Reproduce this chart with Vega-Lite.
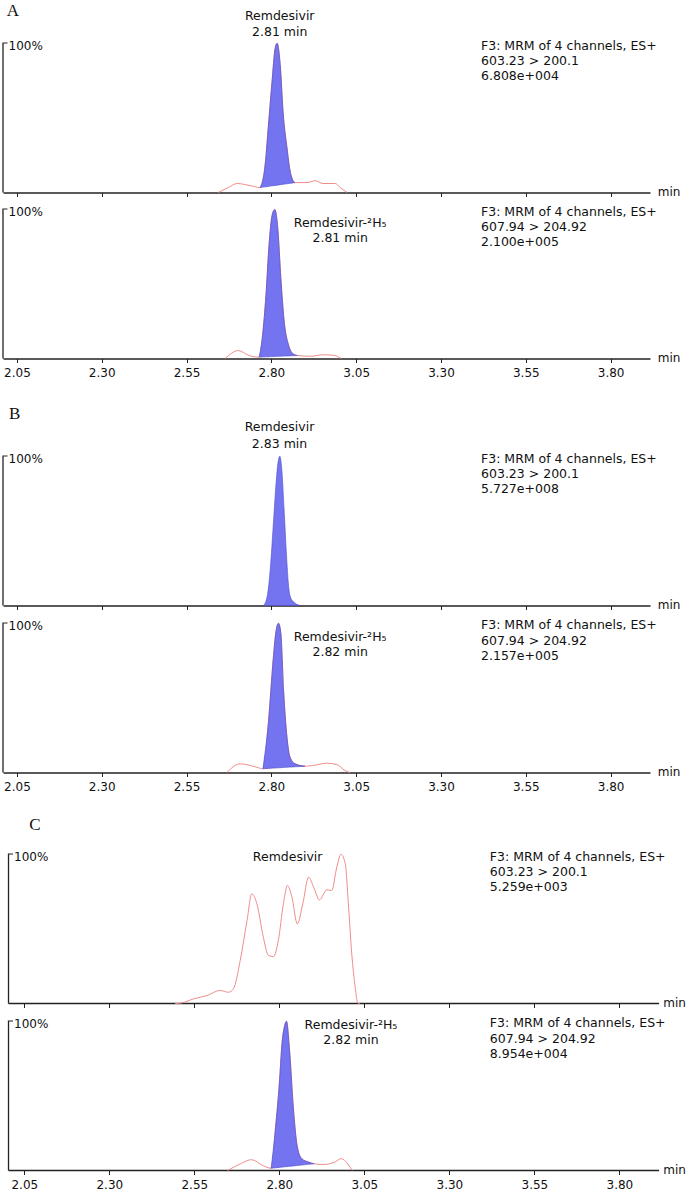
{
  "$schema": "https://vega.github.io/schema/vega-lite/v6.json",
  "padding": {"left": 2, "top": 1.5, "right": 0, "bottom": 0},
  "config": {
    "view": {"stroke": null},
    "axis": {"grid": false, "domainColor": "#222", "domainWidth": 1.3, "tickColor": "#222", "tickWidth": 1, "labelFont": "DejaVu Sans", "labelFontSize": 12, "labelColor": "#111", "titleFont": "DejaVu Sans", "titleFontSize": 12, "titleFontWeight": "normal", "titleColor": "#111"},
    "text": {"font": "DejaVu Sans", "fontSize": 12.5, "color": "#111", "baseline": "middle"}
  },
  "datasets": {
    "trace": [
      {"p":"A1","t":2.643,"v":0},{"p":"A1","t":2.673,"v":3.3},{"p":"A1","t":2.699,"v":6.0},{"p":"A1","t":2.737,"v":4.6},{"p":"A1","t":2.767,"v":3.3,"b":3.3},{"p":"A1","t":2.782,"v":19.2,"b":3.78},{"p":"A1","t":2.790,"v":41,"b":4.04},{"p":"A1","t":2.802,"v":74,"b":4.42},{"p":"A1","t":2.811,"v":96,"b":4.71},{"p":"A1","t":2.817,"v":99.5,"b":4.9},{"p":"A1","t":2.826,"v":85.4,"b":5.19},{"p":"A1","t":2.835,"v":52.3,"b":5.48},{"p":"A1","t":2.846,"v":29.8,"b":5.83},{"p":"A1","t":2.855,"v":14.6,"b":6.12},{"p":"A1","t":2.864,"v":7.9,"b":6.41},{"p":"A1","t":2.870,"v":6.6,"b":6.6},{"p":"A1","t":2.905,"v":6.6},{"p":"A1","t":2.929,"v":7.9},{"p":"A1","t":2.952,"v":6.0},{"p":"A1","t":2.988,"v":6.0},{"p":"A1","t":3.003,"v":3.3},{"p":"A1","t":3.023,"v":0},
      {"p":"A2","t":2.664,"v":0},{"p":"A2","t":2.703,"v":5.3},{"p":"A2","t":2.734,"v":2.0},{"p":"A2","t":2.764,"v":0.9,"b":0.9},{"p":"A2","t":2.774,"v":15.3,"b":1.0},{"p":"A2","t":2.784,"v":42,"b":1.09},{"p":"A2","t":2.793,"v":75.3,"b":1.18},{"p":"A2","t":2.802,"v":95.3,"b":1.27},{"p":"A2","t":2.810,"v":99.3,"b":1.35},{"p":"A2","t":2.819,"v":86.7,"b":1.44},{"p":"A2","t":2.828,"v":53.3,"b":1.52},{"p":"A2","t":2.838,"v":24.2,"b":1.62},{"p":"A2","t":2.851,"v":8.7,"b":1.75},{"p":"A2","t":2.864,"v":3.1,"b":1.87},{"p":"A2","t":2.877,"v":2.0,"b":2.0},{"p":"A2","t":2.915,"v":1.5},{"p":"A2","t":2.954,"v":2.5},{"p":"A2","t":2.986,"v":2.0},{"p":"A2","t":3.006,"v":0},
      {"p":"B1","t":2.777,"v":0,"b":0},{"p":"B1","t":2.788,"v":6.5,"b":0},{"p":"B1","t":2.797,"v":25,"b":0},{"p":"B1","t":2.806,"v":55,"b":0},{"p":"B1","t":2.814,"v":82,"b":0},{"p":"B1","t":2.820,"v":96,"b":0},{"p":"B1","t":2.825,"v":99.5,"b":0},{"p":"B1","t":2.831,"v":90,"b":0},{"p":"B1","t":2.838,"v":62,"b":0},{"p":"B1","t":2.845,"v":32,"b":0},{"p":"B1","t":2.850,"v":15,"b":0},{"p":"B1","t":2.855,"v":6.5,"b":0},{"p":"B1","t":2.865,"v":2.5,"b":0},{"p":"B1","t":2.885,"v":0,"b":0},
      {"p":"B2","t":2.669,"v":0},{"p":"B2","t":2.708,"v":5.8},{"p":"B2","t":2.757,"v":3.5},{"p":"B2","t":2.775,"v":2.5,"b":2.5},{"p":"B2","t":2.791,"v":32.7,"b":2.72},{"p":"B2","t":2.806,"v":76.9,"b":2.92},{"p":"B2","t":2.814,"v":94.7,"b":3.03},{"p":"B2","t":2.821,"v":99.5,"b":3.13},{"p":"B2","t":2.828,"v":92.7,"b":3.23},{"p":"B2","t":2.836,"v":54.7,"b":3.34},{"p":"B2","t":2.846,"v":23.5,"b":3.47},{"p":"B2","t":2.855,"v":10.2,"b":3.6},{"p":"B2","t":2.870,"v":5.8,"b":3.8},{"p":"B2","t":2.899,"v":4.2,"b":4.2},{"p":"B2","t":2.924,"v":4.7},{"p":"B2","t":2.963,"v":6.2},{"p":"B2","t":2.993,"v":5.3},{"p":"B2","t":3.017,"v":1.3},{"p":"B2","t":3.032,"v":0},
      {"p":"C1","t":2.494,"v":0},{"p":"C1","t":2.509,"v":0.2},{"p":"C1","t":2.548,"v":3.1},{"p":"C1","t":2.587,"v":5.3},{"p":"C1","t":2.626,"v":8.7},{"p":"C1","t":2.650,"v":7.5},{"p":"C1","t":2.665,"v":9.8},{"p":"C1","t":2.685,"v":28.7},{"p":"C1","t":2.705,"v":55.3},{"p":"C1","t":2.719,"v":73.1},{"p":"C1","t":2.734,"v":66.5},{"p":"C1","t":2.753,"v":44.2},{"p":"C1","t":2.768,"v":32},{"p":"C1","t":2.783,"v":31.3},{"p":"C1","t":2.797,"v":42},{"p":"C1","t":2.812,"v":66.5},{"p":"C1","t":2.824,"v":78.7},{"p":"C1","t":2.837,"v":70.9},{"p":"C1","t":2.853,"v":53.1},{"p":"C1","t":2.869,"v":66.5},{"p":"C1","t":2.886,"v":84.2},{"p":"C1","t":2.901,"v":77.5},{"p":"C1","t":2.918,"v":69.1},{"p":"C1","t":2.940,"v":75.8},{"p":"C1","t":2.954,"v":75.3},{"p":"C1","t":2.969,"v":90.9},{"p":"C1","t":2.981,"v":99.5},{"p":"C1","t":2.994,"v":93.1},{"p":"C1","t":3.003,"v":66.5},{"p":"C1","t":3.013,"v":33.1},{"p":"C1","t":3.023,"v":10.9},{"p":"C1","t":3.031,"v":0.2},{"p":"C1","t":3.036,"v":0},
      {"p":"C2","t":2.648,"v":0},{"p":"C2","t":2.686,"v":4.5},{"p":"C2","t":2.718,"v":7.2},{"p":"C2","t":2.751,"v":3.4},{"p":"C2","t":2.776,"v":1.5,"b":1.5},{"p":"C2","t":2.789,"v":29,"b":1.81},{"p":"C2","t":2.800,"v":58,"b":2.07},{"p":"C2","t":2.808,"v":85,"b":2.26},{"p":"C2","t":2.815,"v":96,"b":2.43},{"p":"C2","t":2.821,"v":99.5,"b":2.57},{"p":"C2","t":2.830,"v":80.5,"b":2.79},{"p":"C2","t":2.841,"v":42.5,"b":3.05},{"p":"C2","t":2.853,"v":15.6,"b":3.33},{"p":"C2","t":2.866,"v":7.9,"b":3.64},{"p":"C2","t":2.886,"v":5.6,"b":4.12},{"p":"C2","t":2.902,"v":4.5,"b":4.5},{"p":"C2","t":2.931,"v":4.0},{"p":"C2","t":2.963,"v":5.6},{"p":"C2","t":2.982,"v":7.9},{"p":"C2","t":3.001,"v":4.5},{"p":"C2","t":3.014,"v":0}
    ],
    "labels": [
      {"p":"A1","k":"L","t":2.0202,"v":121.3,"s":"A"},
      {"p":"A1","k":"c","t":2.8246,"v":118,"s":"Remdesivir"},
      {"p":"A1","k":"c","t":2.8246,"v":107,"s":"2.81 min"},
      {"p":"A1","k":"l","t":3.418,"v":98,"s":"F3: MRM of 4 channels, ES+"},
      {"p":"A1","k":"l","t":3.418,"v":87.7,"s":"603.23 > 200.1"},
      {"p":"A1","k":"l","t":3.418,"v":77.5,"s":"6.808e+004"},
      {"p":"A2","k":"c","t":3.0028,"v":90.5,"s":"Remdesivir-²H₅"},
      {"p":"A2","k":"c","t":3.0028,"v":80.3,"s":"2.81 min"},
      {"p":"A2","k":"l","t":3.418,"v":98,"s":"F3: MRM of 4 channels, ES+"},
      {"p":"A2","k":"l","t":3.418,"v":87.7,"s":"607.94 > 204.92"},
      {"p":"A2","k":"l","t":3.418,"v":77.5,"s":"2.100e+005"},
      {"p":"B1","k":"L","t":2.0267,"v":128,"s":"B"},
      {"p":"B1","k":"c","t":2.824,"v":118.7,"s":"Remdesivir"},
      {"p":"B1","k":"c","t":2.824,"v":108,"s":"2.83 min"},
      {"p":"B1","k":"l","t":3.418,"v":98,"s":"F3: MRM of 4 channels, ES+"},
      {"p":"B1","k":"l","t":3.418,"v":87.7,"s":"603.23 > 200.1"},
      {"p":"B1","k":"l","t":3.418,"v":77.5,"s":"5.727e+008"},
      {"p":"B2","k":"c","t":3.0028,"v":90.5,"s":"Remdesivir-²H₅"},
      {"p":"B2","k":"c","t":3.0028,"v":80.3,"s":"2.82 min"},
      {"p":"B2","k":"l","t":3.418,"v":98,"s":"F3: MRM of 4 channels, ES+"},
      {"p":"B2","k":"l","t":3.418,"v":87.7,"s":"607.94 > 204.92"},
      {"p":"B2","k":"l","t":3.418,"v":77.5,"s":"2.157e+005"},
      {"p":"C1","k":"L","t":2.0647,"v":118.7,"s":"C"},
      {"p":"C1","k":"c","t":2.8245,"v":98,"s":"Remdesivir"},
      {"p":"C1","k":"l","t":3.419,"v":98,"s":"F3: MRM of 4 channels, ES+"},
      {"p":"C1","k":"l","t":3.419,"v":87.7,"s":"603.23 > 200.1"},
      {"p":"C1","k":"l","t":3.419,"v":77.5,"s":"5.259e+003"},
      {"p":"C2","k":"c","t":3.0106,"v":97.3,"s":"Remdesivir-²H₅"},
      {"p":"C2","k":"c","t":3.0106,"v":87.3,"s":"2.82 min"},
      {"p":"C2","k":"l","t":3.419,"v":98,"s":"F3: MRM of 4 channels, ES+"},
      {"p":"C2","k":"l","t":3.419,"v":87.7,"s":"607.94 > 204.92"},
      {"p":"C2","k":"l","t":3.419,"v":77.5,"s":"8.954e+004"}
    ],
    "axisAB": [{"t":2.009,"y0":0,"y1":100}],
    "axisC": [{"t":2.0036,"t2":3.9167,"y0":0,"y1":100}]
  },
  "spacing": 0,
  "bounds": "flush",
  "vconcat": [
    {
      "width": 647, "height": 150,
      "data": {"name": "trace"},
      "transform": [{"filter": "datum.p == 'A1'"}],
      "encoding": {
        "x": {"field": "t", "type": "quantitative", "scale": {"domain": [2.009, 3.916], "nice": false, "zero": false}, "axis": {"values": [2.05,2.3,2.55,2.8,3.05,3.3,3.55,3.8], "labels": false, "tickSize": 4, "title": "min", "titleX": 654.3, "titleY": 3, "titleAlign": "left", "titleBaseline": "alphabetic", "titleAngle": 0, "titleAnchor": "start"}},
        "y": {"field": "v", "type": "quantitative", "scale": {"domain": [0, 100], "nice": false, "zero": false}, "axis": {"values": [100], "labelExpr": "'100%'", "domain": false, "tickSize": -4, "labelPadding": -1, "labelAlign": "left", "labelBaseline": "middle", "labelOffset": 3, "labelFlush": false, "title": null}}
      },
      "layer": [
        {"data": {"name": "axisAB"}, "mark": {"type": "rule", "color": "#222", "strokeWidth": 1.3}, "encoding": {"x": {"field": "t", "type": "quantitative"}, "y": {"field": "y0", "type": "quantitative"}, "y2": {"field": "y1"}}},
        {"mark": {"type": "line", "color": "#f08c8c", "strokeWidth": 1, "interpolate": "monotone"}},
        {"transform": [{"filter": "isValid(datum.b)"}], "mark": {"type": "area", "interpolate": "monotone", "fill": "#7474f0", "stroke": "#4b4bc8", "strokeWidth": 0.6, "fillOpacity": 1}, "encoding": {"y2": {"field": "b"}}},
        {"data": {"name": "labels"}, "transform": [{"filter": "datum.p == 'A1' && datum.k == 'c'"}], "mark": {"type": "text", "align": "center"}, "encoding": {"text": {"field": "s"}}},
        {"data": {"name": "labels"}, "transform": [{"filter": "datum.p == 'A1' && datum.k == 'l'"}], "mark": {"type": "text", "align": "left"}, "encoding": {"text": {"field": "s"}}},
        {"data": {"name": "labels"}, "transform": [{"filter": "datum.p == 'A1' && datum.k == 'L'"}], "mark": {"type": "text", "align": "left", "font": "Liberation Serif", "fontSize": 17}, "encoding": {"text": {"field": "s"}}}
      ]
    },
    {
      "width": 647, "height": 166,
      "data": {"name": "trace"},
      "transform": [{"filter": "datum.p == 'A2'"}],
      "encoding": {
        "x": {"field": "t", "type": "quantitative", "scale": {"domain": [2.009, 3.916], "nice": false, "zero": false}, "axis": {"values": [2.05,2.3,2.55,2.8,3.05,3.3,3.55,3.8], "format": ".2f", "labelPadding": 5, "labelFlush": false, "tickSize": 4, "title": "min", "titleX": 654.3, "titleY": 3, "titleAlign": "left", "titleBaseline": "alphabetic", "titleAngle": 0, "titleAnchor": "start"}},
        "y": {"field": "v", "type": "quantitative", "scale": {"domain": [0, 110.667], "nice": false, "zero": false}, "axis": {"values": [100], "labelExpr": "'100%'", "domain": false, "tickSize": -4, "labelPadding": -1, "labelAlign": "left", "labelBaseline": "middle", "labelOffset": 3, "labelFlush": false, "title": null}}
      },
      "layer": [
        {"data": {"name": "axisAB"}, "mark": {"type": "rule", "color": "#222", "strokeWidth": 1.3}, "encoding": {"x": {"field": "t", "type": "quantitative"}, "y": {"field": "y0", "type": "quantitative"}, "y2": {"field": "y1"}}},
        {"mark": {"type": "line", "color": "#f08c8c", "strokeWidth": 1, "interpolate": "monotone"}},
        {"transform": [{"filter": "isValid(datum.b)"}], "mark": {"type": "area", "interpolate": "monotone", "fill": "#7474f0", "stroke": "#4b4bc8", "strokeWidth": 0.6, "fillOpacity": 1}, "encoding": {"y2": {"field": "b"}}},
        {"data": {"name": "labels"}, "transform": [{"filter": "datum.p == 'A2' && datum.k == 'c'"}], "mark": {"type": "text", "align": "center"}, "encoding": {"text": {"field": "s"}}},
        {"data": {"name": "labels"}, "transform": [{"filter": "datum.p == 'A2' && datum.k == 'l'"}], "mark": {"type": "text", "align": "left"}, "encoding": {"text": {"field": "s"}}}
      ]
    },
    {
      "width": 647, "height": 247,
      "data": {"name": "trace"},
      "transform": [{"filter": "datum.p == 'B1'"}],
      "encoding": {
        "x": {"field": "t", "type": "quantitative", "scale": {"domain": [2.009, 3.916], "nice": false, "zero": false}, "axis": {"values": [2.05,2.3,2.55,2.8,3.05,3.3,3.55,3.8], "labels": false, "tickSize": 4, "title": "min", "titleX": 654.3, "titleY": 3, "titleAlign": "left", "titleBaseline": "alphabetic", "titleAngle": 0, "titleAnchor": "start"}},
        "y": {"field": "v", "type": "quantitative", "scale": {"domain": [0, 164.667], "nice": false, "zero": false}, "axis": {"values": [100], "labelExpr": "'100%'", "domain": false, "tickSize": -4, "labelPadding": -1, "labelAlign": "left", "labelBaseline": "middle", "labelOffset": 3, "labelFlush": false, "title": null}}
      },
      "layer": [
        {"data": {"name": "axisAB"}, "mark": {"type": "rule", "color": "#222", "strokeWidth": 1.3}, "encoding": {"x": {"field": "t", "type": "quantitative"}, "y": {"field": "y0", "type": "quantitative"}, "y2": {"field": "y1"}}},
        {"transform": [{"filter": "isValid(datum.b)"}], "mark": {"type": "area", "interpolate": "monotone", "fill": "#7474f0", "stroke": "#4b4bc8", "strokeWidth": 0.6, "fillOpacity": 1}, "encoding": {"y2": {"field": "b"}}},
        {"data": {"name": "labels"}, "transform": [{"filter": "datum.p == 'B1' && datum.k == 'c'"}], "mark": {"type": "text", "align": "center"}, "encoding": {"text": {"field": "s"}}},
        {"data": {"name": "labels"}, "transform": [{"filter": "datum.p == 'B1' && datum.k == 'l'"}], "mark": {"type": "text", "align": "left"}, "encoding": {"text": {"field": "s"}}},
        {"data": {"name": "labels"}, "transform": [{"filter": "datum.p == 'B1' && datum.k == 'L'"}], "mark": {"type": "text", "align": "left", "font": "Liberation Serif", "fontSize": 17}, "encoding": {"text": {"field": "s"}}}
      ]
    },
    {
      "width": 647, "height": 167,
      "data": {"name": "trace"},
      "transform": [{"filter": "datum.p == 'B2'"}],
      "encoding": {
        "x": {"field": "t", "type": "quantitative", "scale": {"domain": [2.009, 3.916], "nice": false, "zero": false}, "axis": {"values": [2.05,2.3,2.55,2.8,3.05,3.3,3.55,3.8], "format": ".2f", "labelPadding": 5, "labelFlush": false, "tickSize": 4, "title": "min", "titleX": 654.3, "titleY": 3, "titleAlign": "left", "titleBaseline": "alphabetic", "titleAngle": 0, "titleAnchor": "start"}},
        "y": {"field": "v", "type": "quantitative", "scale": {"domain": [0, 111.333], "nice": false, "zero": false}, "axis": {"values": [100], "labelExpr": "'100%'", "domain": false, "tickSize": -4, "labelPadding": -1, "labelAlign": "left", "labelBaseline": "middle", "labelOffset": 3, "labelFlush": false, "title": null}}
      },
      "layer": [
        {"data": {"name": "axisAB"}, "mark": {"type": "rule", "color": "#222", "strokeWidth": 1.3}, "encoding": {"x": {"field": "t", "type": "quantitative"}, "y": {"field": "y0", "type": "quantitative"}, "y2": {"field": "y1"}}},
        {"mark": {"type": "line", "color": "#f08c8c", "strokeWidth": 1, "interpolate": "monotone"}},
        {"transform": [{"filter": "isValid(datum.b)"}], "mark": {"type": "area", "interpolate": "monotone", "fill": "#7474f0", "stroke": "#4b4bc8", "strokeWidth": 0.6, "fillOpacity": 1}, "encoding": {"y2": {"field": "b"}}},
        {"data": {"name": "labels"}, "transform": [{"filter": "datum.p == 'B2' && datum.k == 'c'"}], "mark": {"type": "text", "align": "center"}, "encoding": {"text": {"field": "s"}}},
        {"data": {"name": "labels"}, "transform": [{"filter": "datum.p == 'B2' && datum.k == 'l'"}], "mark": {"type": "text", "align": "left"}, "encoding": {"text": {"field": "s"}}}
      ]
    },
    {
      "width": 656, "height": 231,
      "data": {"name": "trace"},
      "transform": [{"filter": "datum.p == 'C1'"}],
      "encoding": {
        "x": {"field": "t", "type": "quantitative", "scale": {"domain": [1.9874, 3.9165], "nice": false, "zero": false}, "axis": {"values": [2.05,2.3,2.55,2.8,3.05,3.3,3.55,3.8], "labels": false, "domain": false, "tickSize": 4, "title": "min", "titleX": 659.8, "titleY": 3, "titleAlign": "left", "titleBaseline": "alphabetic", "titleAngle": 0, "titleAnchor": "start"}},
        "y": {"field": "v", "type": "quantitative", "scale": {"domain": [0, 154], "nice": false, "zero": false}, "axis": {"values": [100], "labelExpr": "'100%'", "domain": false, "offset": -5.5, "tickSize": -4, "labelPadding": -1, "labelAlign": "left", "labelBaseline": "middle", "labelOffset": 3, "labelFlush": false, "title": null}}
      },
      "layer": [
        {"data": {"name": "axisC"}, "mark": {"type": "rule", "color": "#222", "strokeWidth": 1.3}, "encoding": {"x": {"field": "t", "type": "quantitative"}, "x2": {"field": "t2"}, "y": {"field": "y0", "type": "quantitative"}}},
        {"data": {"name": "axisC"}, "mark": {"type": "rule", "color": "#222", "strokeWidth": 1.3}, "encoding": {"x": {"field": "t", "type": "quantitative"}, "y": {"field": "y0", "type": "quantitative"}, "y2": {"field": "y1"}}},
        {"mark": {"type": "line", "color": "#f08c8c", "strokeWidth": 1, "interpolate": "monotone"}},
        {"data": {"name": "labels"}, "transform": [{"filter": "datum.p == 'C1' && datum.k == 'c'"}], "mark": {"type": "text", "align": "center"}, "encoding": {"text": {"field": "s"}}},
        {"data": {"name": "labels"}, "transform": [{"filter": "datum.p == 'C1' && datum.k == 'l'"}], "mark": {"type": "text", "align": "left"}, "encoding": {"text": {"field": "s"}}},
        {"data": {"name": "labels"}, "transform": [{"filter": "datum.p == 'C1' && datum.k == 'L'"}], "mark": {"type": "text", "align": "left", "font": "Liberation Serif", "fontSize": 17}, "encoding": {"text": {"field": "s"}}}
      ]
    },
    {
      "width": 656, "height": 167,
      "data": {"name": "trace"},
      "transform": [{"filter": "datum.p == 'C2'"}],
      "encoding": {
        "x": {"field": "t", "type": "quantitative", "scale": {"domain": [1.9874, 3.9165], "nice": false, "zero": false}, "axis": {"values": [2.05,2.3,2.55,2.8,3.05,3.3,3.55,3.8], "format": ".2f", "labelPadding": 5, "labelFlush": false, "domain": false, "tickSize": 4, "title": "min", "titleX": 659.8, "titleY": 3, "titleAlign": "left", "titleBaseline": "alphabetic", "titleAngle": 0, "titleAnchor": "start"}},
        "y": {"field": "v", "type": "quantitative", "scale": {"domain": [0, 111.333], "nice": false, "zero": false}, "axis": {"values": [100], "labelExpr": "'100%'", "domain": false, "offset": -5.5, "tickSize": -4, "labelPadding": -1, "labelAlign": "left", "labelBaseline": "middle", "labelOffset": 3, "labelFlush": false, "title": null}}
      },
      "layer": [
        {"data": {"name": "axisC"}, "mark": {"type": "rule", "color": "#222", "strokeWidth": 1.3}, "encoding": {"x": {"field": "t", "type": "quantitative"}, "x2": {"field": "t2"}, "y": {"field": "y0", "type": "quantitative"}}},
        {"data": {"name": "axisC"}, "mark": {"type": "rule", "color": "#222", "strokeWidth": 1.3}, "encoding": {"x": {"field": "t", "type": "quantitative"}, "y": {"field": "y0", "type": "quantitative"}, "y2": {"field": "y1"}}},
        {"mark": {"type": "line", "color": "#f08c8c", "strokeWidth": 1, "interpolate": "monotone"}},
        {"transform": [{"filter": "isValid(datum.b)"}], "mark": {"type": "area", "interpolate": "monotone", "fill": "#7474f0", "stroke": "#4b4bc8", "strokeWidth": 0.6, "fillOpacity": 1}, "encoding": {"y2": {"field": "b"}}},
        {"data": {"name": "labels"}, "transform": [{"filter": "datum.p == 'C2' && datum.k == 'c'"}], "mark": {"type": "text", "align": "center"}, "encoding": {"text": {"field": "s"}}},
        {"data": {"name": "labels"}, "transform": [{"filter": "datum.p == 'C2' && datum.k == 'l'"}], "mark": {"type": "text", "align": "left"}, "encoding": {"text": {"field": "s"}}}
      ]
    }
  ]
}
